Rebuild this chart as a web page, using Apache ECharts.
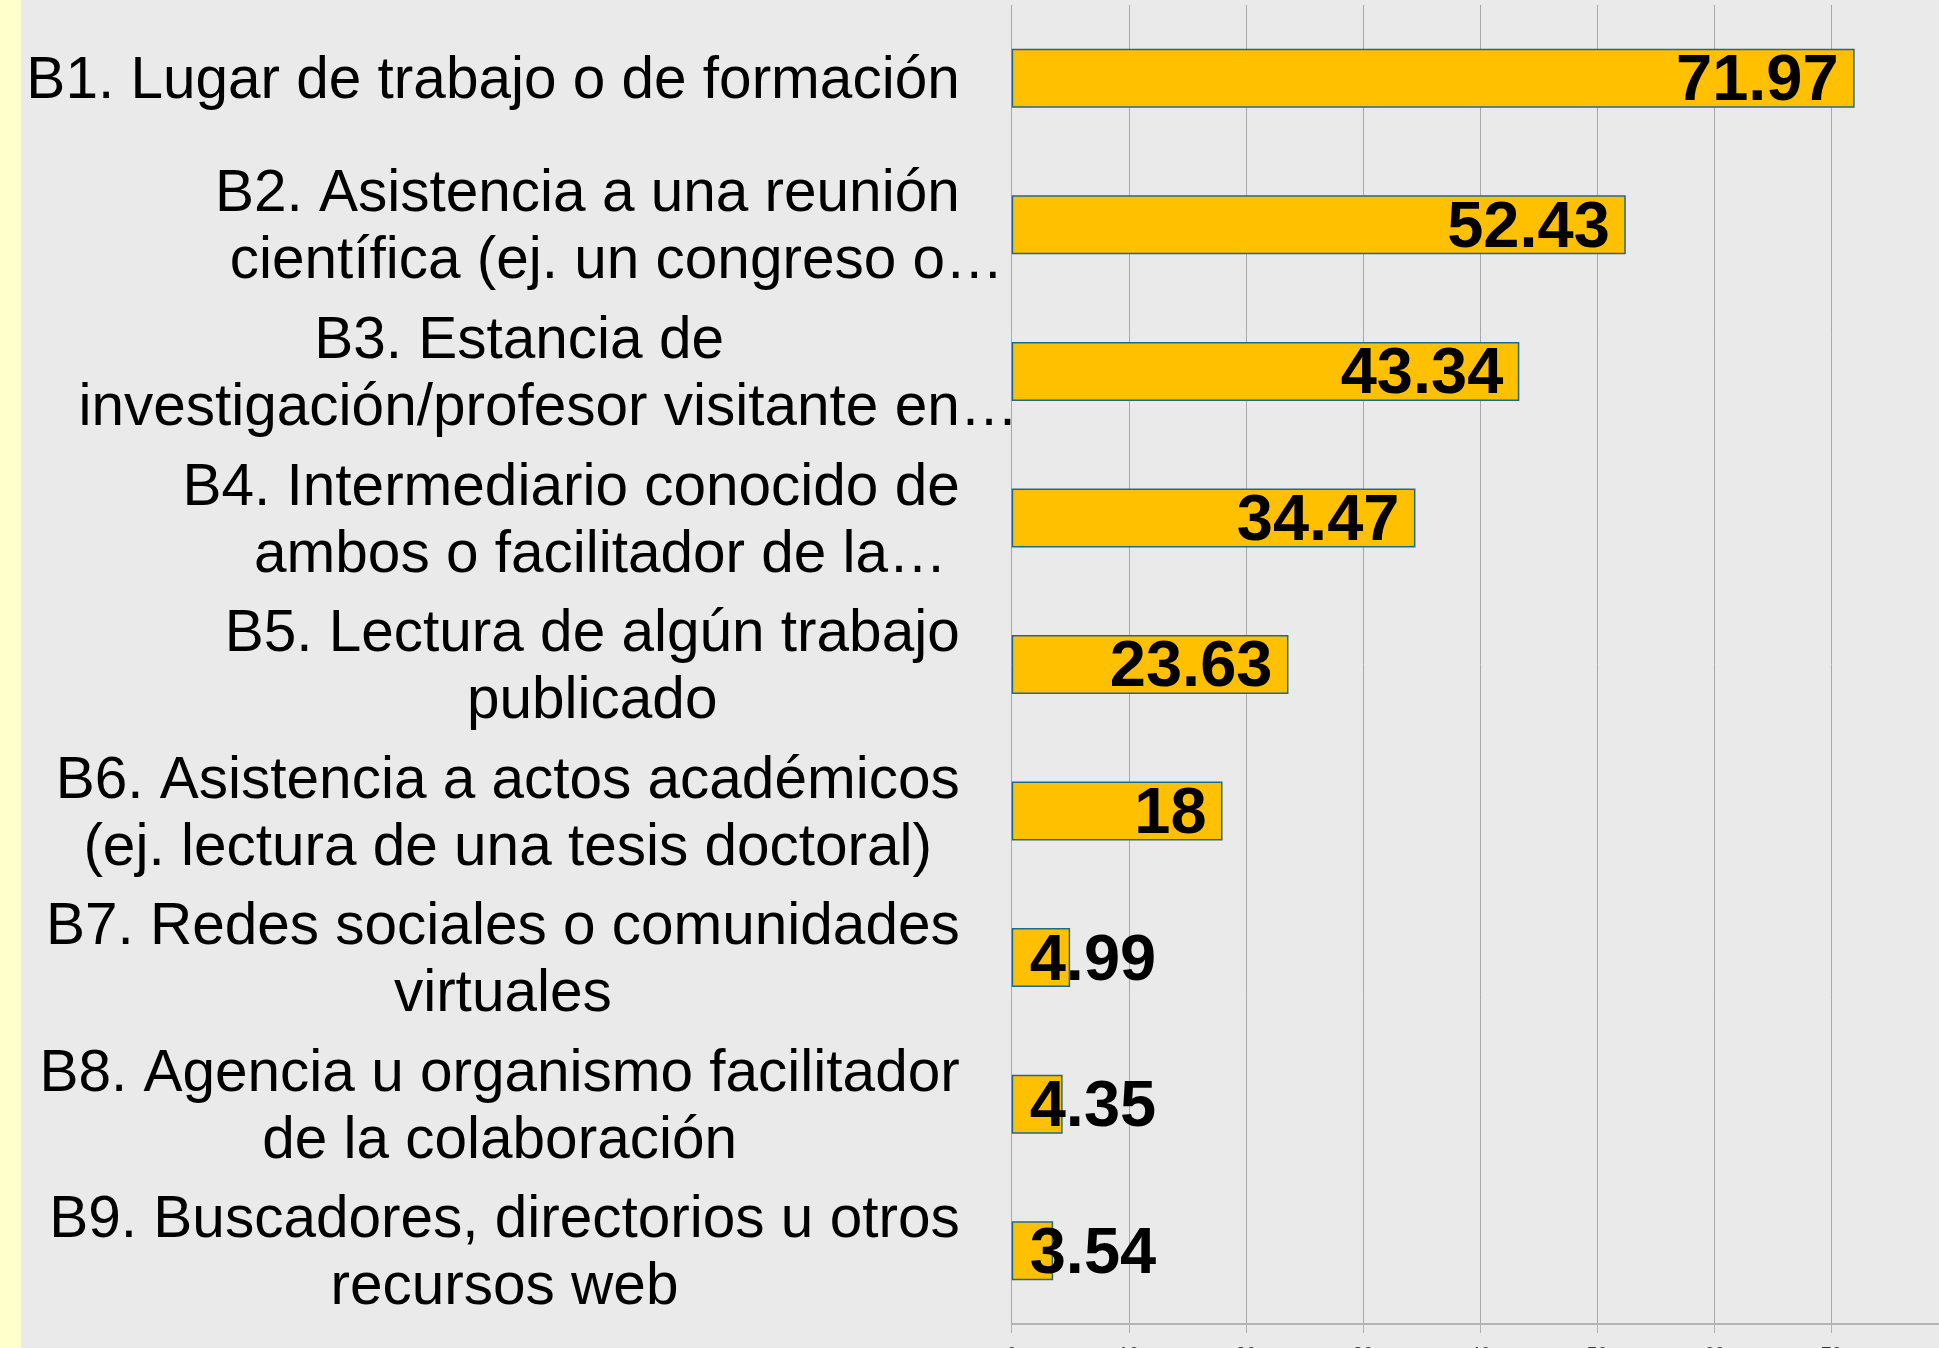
<!DOCTYPE html>
<html>
<head>
<meta charset="utf-8">
<title>Vías de contacto</title>
<script src="https://cdn.jsdelivr.net/npm/echarts@6/dist/echarts.min.js"></script>
<style>
  html, body { margin: 0; padding: 0; background: #EAEAEA; }
  #main { width: 1939px; height: 1348px; }
</style>
</head>
<body>
<div id="main"></div>
<script>
// categorías (eje Y), tal como se ven recortadas en el gráfico
var categories = [
  'B1. Lugar de trabajo o de formación',
  'B2. Asistencia a una reunión\ncientífica (ej. un congreso o…',
  'B3. Estancia de\ninvestigación/profesor visitante en…',
  'B4. Intermediario conocido de\nambos o facilitador de la…',
  'B5. Lectura de algún trabajo\npublicado',
  'B6. Asistencia a actos académicos\n(ej. lectura de una tesis doctoral)',
  'B7. Redes sociales o comunidades\nvirtuales',
  'B8. Agencia u organismo facilitador\nde la colaboración',
  'B9. Buscadores, directorios u otros\nrecursos web'
];
// porcentajes
var values = [71.97, 52.43, 43.34, 34.47, 23.63, 18, 4.99, 4.35, 3.54];
// marcas del eje X
var xTicks = [0, 10, 20, 30, 40, 50, 60, 70, 80];

var FONT = '"Liberation Sans", Arial, sans-serif';
var LABEL_SIZE = 58.5;
var LINE_H = 67;

// ancho de "…" para dejarlo sobresalir sin mover el centrado
var ctx = document.createElement('canvas').getContext('2d');
ctx.font = LABEL_SIZE + 'px "Liberation Sans"';
var ellipsisW = ctx.measureText('…').width;

var chart = echarts.init(document.getElementById('main'));

var option = {
  backgroundColor: '#EAEAEA',
  animation: false,
  graphic: [{
    type: 'rect',
    left: 0,
    top: 0,
    silent: true,
    z: -10,
    shape: { width: 21, height: 1348 },
    style: { fill: '#FFFFCC' }
  }],
  grid: {
    left: 1011.7,
    top: 5,
    width: 937,
    height: 1319,
    containLabel: false,
    outerBoundsMode: 'none'
  },
  xAxis: {
    type: 'value',
    min: xTicks[0],
    max: xTicks[xTicks.length - 1],
    interval: xTicks[1] - xTicks[0],
    axisLine: { show: true, lineStyle: { color: '#B4B4B4', width: 2 } },
    axisTick: { show: true, length: 9, lineStyle: { color: '#B0B0B0' } },
    splitLine: { show: true, lineStyle: { color: '#A8A8A8', width: 1 } },
    axisLabel: { fontSize: 19, margin: 21, color: '#333', fontFamily: FONT }
  },
  yAxis: {
    type: 'category',
    inverse: true,
    data: categories,
    axisLine: { show: false },
    axisTick: { show: false },
    axisLabel: {
      interval: 0,
      margin: 52,
      padding: [8, 0, 0, 0],
      fontFamily: FONT,
      fontSize: LABEL_SIZE,
      lineHeight: LINE_H,
      color: '#000',
      formatter: function (value) {
        return value.split('\n').map(function (line) {
          if (line.slice(-1) === '…') {
            return '{t|' + line.slice(0, -1) + '}{e|…}';
          }
          return '{t|' + line + '}';
        }).join('\n');
      },
      rich: {
        t: { align: 'center', fontFamily: FONT, fontSize: LABEL_SIZE, lineHeight: LINE_H, color: '#000' },
        e: { align: 'center', fontFamily: FONT, fontSize: LABEL_SIZE, lineHeight: LINE_H, color: '#000',
             padding: [0, -ellipsisW, 0, 0] }
      }
    }
  },
  series: [{
    type: 'bar',
    barWidth: 59,
    itemStyle: { color: '#FFC000', borderColor: '#1F6A8C', borderWidth: 1.5 },
    label: {
      show: true,
      position: 'insideRight',
      distance: 16,
      offset: [0, 4],
      fontFamily: FONT,
      fontSize: 65,
      fontWeight: 'bold',
      color: '#000'
    },
    data: values.map(function (v) {
      // barras cortas: la etiqueta empieza dentro y se sale por la derecha
      return v < 10
        ? { value: v, label: { position: 'insideLeft', distance: 18 } }
        : { value: v };
    })
  }]
};

chart.setOption(option);
</script>
</body>
</html>
